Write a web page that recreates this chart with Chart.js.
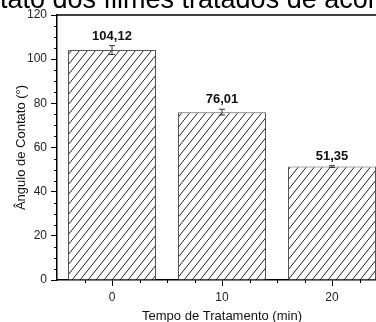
<!DOCTYPE html>
<html>
<head>
<meta charset="utf-8">
<script src="https://cdn.jsdelivr.net/npm/chart.js@4.4.0/dist/chart.umd.min.js"></script>
<style>
html, body { margin: 0; padding: 0; background: #fff; overflow: hidden; width: 376px; height: 322px; }
#wrap { position: absolute; left: 0; top: -20px; }
</style>
</head>
<body>
<div id="wrap"><canvas id="grafico" width="420" height="352"></canvas></div>
<script>
// dados
const tempos = [0, 10, 20]
const angulos = [104.12, 76.01, 51.35]
const erros = [2.0, 1.3, 0.4]
const rotulos = ['104,12', '76,01', '51,35']
const ticksY = [0, 20, 40, 60, 80, 100, 120]
const ticksX = [0, 10, 20]
const titulo = 'Ângulo de contato dos filmes tratados de acordo com o tempo'

const fonte = '"Liberation Sans", Arial, sans-serif'

function criarHachura() {
  const c = document.createElement('canvas')
  c.width = 8
  c.height = 10
  const g = c.getContext('2d')
  g.fillStyle = '#fff'
  g.fillRect(0, 0, 8, 10)
  g.strokeStyle = '#222'
  g.lineWidth = 1
  for (const k of [0, 8, 16]) {
    g.beginPath()
    g.moveTo(k + 2, -2.5)
    g.lineTo(k - 10, 12.5)
    g.stroke()
  }
  return g.createPattern(c, 'repeat')
}

// titulo cortado no topo, ticks menores, moldura
const extras = {
  id: 'extras',
  afterDraw(chart) {
    const ctx = chart.ctx
    const area = chart.chartArea
    const sx = chart.scales.x
    const sy = chart.scales.y
    ctx.save()
    ctx.strokeStyle = '#000'
    ctx.lineWidth = 1.5
    ctx.beginPath()
    ctx.moveTo(area.left, area.top)
    ctx.lineTo(area.right, area.top)
    ctx.lineTo(area.right, area.bottom)
    ctx.stroke()

    ctx.lineWidth = 1
    for (let v = 5; v < 120; v += 5) {
      if (v % 20 === 0) continue
      const y = Math.round(sy.getPixelForValue(v)) + 0.5
      ctx.beginPath()
      ctx.moveTo(area.left - 3, y)
      ctx.lineTo(area.left, y)
      ctx.stroke()
    }
    for (let v = -2.5; v < 25; v += 2.5) {
      if (v % 10 === 0) continue
      const x = Math.round(sx.getPixelForValue(v)) + 0.5
      ctx.beginPath()
      ctx.moveTo(x, area.bottom)
      ctx.lineTo(x, area.bottom + 3)
      ctx.stroke()
    }

    ctx.fillStyle = '#000'
    ctx.font = '27px ' + fonte
    ctx.textAlign = 'left'
    ctx.textBaseline = 'alphabetic'
    const pre = ctx.measureText('Ângulo de con').width
    ctx.fillText(titulo, -pre, 28)
    ctx.restore()
  },
  afterDatasetsDraw(chart) {
    const ctx = chart.ctx
    const sy = chart.scales.y
    const meta = chart.getDatasetMeta(0)
    ctx.save()
    meta.data.forEach((bar, i) => {
      const x = bar.x
      const yTop = sy.getPixelForValue(angulos[i] + erros[i])
      const yBot = sy.getPixelForValue(angulos[i] - erros[i])
      ctx.strokeStyle = '#333'
      ctx.lineWidth = 1
      ctx.beginPath()
      ctx.moveTo(x, yTop)
      ctx.lineTo(x, yBot)
      ctx.moveTo(x - 3, yTop)
      ctx.lineTo(x + 3, yTop)
      ctx.moveTo(x - 3, yBot)
      ctx.lineTo(x + 3, yBot)
      ctx.stroke()

      ctx.fillStyle = '#111'
      ctx.font = 'bold 13px ' + fonte
      ctx.textAlign = 'center'
      ctx.textBaseline = 'alphabetic'
      ctx.fillText(rotulos[i], x, yTop - 6)
    })
    ctx.restore()
  }
}

const data = {
  datasets: [{
    data: tempos.map((t, i) => ({ x: t, y: angulos[i] })),
    backgroundColor: criarHachura(),
    borderColor: '#555',
    borderWidth: 1,
    categoryPercentage: 0.8,
    barPercentage: 1
  }]
}

const config = {
  type: 'bar',
  data: data,
  plugins: [extras],
  options: {
    responsive: false,
    animation: false,
    layout: { padding: { top: 35, right: 33, left: 0, bottom: 0 } },
    plugins: { legend: { display: false }, tooltip: { enabled: false } },
    scales: {
      x: {
        type: 'linear',
        min: -5,
        max: 25,
        offset: false,
        afterBuildTicks: s => { s.ticks = ticksX.map(v => ({ value: v })) },
        afterFit: s => { s.height = 52 },
        grid: { drawOnChartArea: false, offset: false, tickLength: 6, tickColor: '#000', tickWidth: 1 },
        border: { color: '#000', width: 1.5 },
        ticks: { color: '#222', padding: 4, maxRotation: 0, font: { family: fonte, size: 12 } },
        title: { display: true, text: 'Tempo de Tratamento (min)', color: '#111', font: { family: fonte, size: 13 }, padding: { top: 0, bottom: 8 } }
      },
      y: {
        min: 0,
        max: 120,
        afterBuildTicks: s => { s.ticks = ticksY.map(v => ({ value: v })) },
        afterFit: s => { s.width = 57 },
        grid: { drawOnChartArea: false, tickLength: 6, tickColor: '#000', tickWidth: 1 },
        border: { color: '#000', width: 1.5 },
        ticks: { color: '#222', padding: 4, font: { family: fonte, size: 12 } },
        title: { display: true, text: 'Ângulo de Contato (°)', color: '#111', font: { family: fonte, size: 13 }, padding: { top: 14, bottom: 0 } }
      }
    }
  }
}

const grafico = new Chart(document.getElementById('grafico'), config)
</script>
</body>
</html>
